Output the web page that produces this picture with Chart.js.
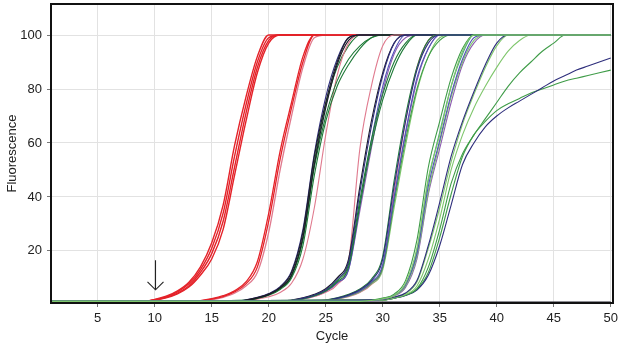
<!DOCTYPE html>
<html>
<head>
<meta charset="utf-8">
<script src="https://cdn.jsdelivr.net/npm/chart.js@4.4.1/dist/chart.umd.min.js"></script>
<style>
  html, body { margin: 0; padding: 0; background: #fff; }
  #wrap { width: 619px; height: 346px; }
</style>
</head>
<body>
<div id="wrap"><canvas id="pcrChart" width="619" height="346"></canvas></div>
<script>
// Amplification curves: [cycle, fluorescence]
const xTicks = [5, 10, 15, 20, 25, 30, 35, 40, 45, 50];
const yTicks = [20, 40, 60, 80, 100];

// earliest red group
const groupA = [
    [[1,1.3],[9,1.3],[10,2],[11,3.2],[12,5.2],[13,8.4],[14,14],[15,23],[16,37],[17,59],[18,77],[19,92],[20,100],[50,100]],
    [[1,1.3],[9,1.3],[10,1.9],[11,3],[12,4.8],[13,7.8],[14,13],[15,21],[16,34],[17,55],[18,74],[19,90],[20,99],[21,100],[50,100]],
    [[1,1.3],[9,1.3],[10,1.8],[11,2.8],[12,4.4],[13,7.1],[14,12],[15,19],[16,31],[17,51],[18,71],[19,88],[20,98],[21,100],[50,100]],
    [[1,1.3],[9,1.3],[10,1.7],[11,2.6],[12,4.1],[13,6.6],[14,11],[15,17],[16,28],[17,48],[18,68],[19,86],[20,97],[21,100],[50,100]]
];
// second red group
const groupB = [
    [[1,1.3],[13,1.3],[14,1.6],[15,2.3],[16,3.4],[17,5.2],[18,8.5],[19,16],[20,34],[21,57],[22,75],[23,92],[24,100],[50,100]],
    [[1,1.3],[13,1.3],[14,1.5],[15,2.1],[16,3.1],[17,4.8],[18,7.8],[19,14],[20,31],[21,54],[22,73],[23,90],[24,100],[50,100]],
    [[1,1.3],[14,1.4],[15,1.9],[16,2.8],[17,4.3],[18,7],[19,12],[20,27],[21,50],[22,70],[23,88],[24,99],[25,100],[50,100]]
];
// black / dark green group around cycle 24
const groupC = [
    [[1,1.3],[17,1.3],[18,1.8],[19,2.7],[20,4],[21,6.5],[22,12],[23,27],[24,55],[25,75],[26,90],[27,99],[28,100],[50,100]],
    [[1,1.3],[17,1.3],[18,1.7],[19,2.5],[20,3.8],[21,6.2],[22,11],[23,25],[24,52],[25,73],[26,89],[27,98],[28,100],[50,100]],
    [[1,1.3],[18,1.7],[19,2.5],[20,3.8],[21,6],[22,10.5],[23,24],[24,51],[25,70],[26,83],[27,91],[28,96],[29,99],[30,100],[50,100]],
    [[1,1.3],[18,1.6],[19,2.4],[20,3.6],[21,5.7],[22,10],[23,22],[24,48],[25,68],[26,81],[27,89],[28,95],[29,99],[30,100],[50,100]],
    [[1,1.3],[17,1.3],[18,1.9],[19,2.8],[20,4.2],[21,6.8],[22,12.5],[23,28],[24,56],[25,77],[26,91],[27,99],[28,100],[50,100]],
    [[1,1.3],[18,1.5],[19,2.1],[20,3],[21,4.6],[22,8],[23,17],[24,36],[25,63],[26,85],[27,97],[28,100],[50,100]],
    [[1,1.3],[18,1.7],[19,2.6],[20,3.9],[21,6.2],[22,11],[23,25],[24,53],[25,74],[26,88],[27,96],[28,100],[50,100]]
];
// group around cycle 28.5
const groupD = [
    [[1,1.3],[21,1.3],[22,1.7],[23,2.5],[24,3.7],[25,5.6],[26,9.5],[27,16],[28,42],[29,66],[30,85],[31,97],[32,100],[50,100]],
    [[1,1.3],[21,1.3],[22,1.8],[23,2.6],[24,3.9],[25,6],[26,10],[27,17],[28,44],[29,68],[30,86],[31,97],[32,100],[50,100]],
    [[1,1.3],[22,1.6],[23,2.4],[24,3.5],[25,5.3],[26,9],[27,15],[28,39],[29,61],[30,78],[31,90],[32,97],[33,100],[50,100]],
    [[1,1.3],[22,1.6],[23,2.3],[24,3.4],[25,5.1],[26,8.5],[27,14],[28,37],[29,59],[30,76],[31,88],[32,96],[33,100],[50,100]],
    [[1,1.3],[22,1.5],[23,2.2],[24,3.3],[25,5],[26,8.2],[27,13],[28,37],[29,61],[30,81],[31,94],[32,100],[50,100]],
    [[1,1.3],[22,1.5],[23,2.1],[24,3.1],[25,4.7],[26,7.5],[27,16],[28,58],[29,81],[30,96],[31,100],[50,100]],
    [[1,1.3],[22,1.5],[23,2.2],[24,3.2],[25,4.9],[26,8],[27,13],[28,35],[29,58],[30,79],[31,93],[32,99],[33,100],[50,100]]
];
// group around cycle 31.5
const groupE = [
    [[1,1.3],[24,1.3],[25,1.7],[26,2.5],[27,3.7],[28,5.6],[29,9],[30,17],[31,44],[32,68],[33,87],[34,97],[35,100],[50,100]],
    [[1,1.3],[24,1.3],[25,1.8],[26,2.6],[27,3.9],[28,5.9],[29,9.5],[30,18],[31,46],[32,70],[33,88],[34,98],[35,100],[50,100]],
    [[1,1.3],[25,1.7],[26,2.4],[27,3.5],[28,5.3],[29,8.5],[30,15],[31,40],[32,64],[33,84],[34,95],[35,100],[50,100]],
    [[1,1.3],[25,1.6],[26,2.3],[27,3.4],[28,5.1],[29,8.2],[30,14],[31,38],[32,61],[33,80],[34,92],[35,98],[36,100],[50,100]],
    [[1,1.3],[25,1.6],[26,2.3],[27,3.3],[28,5],[29,8],[30,14],[31,39],[32,63],[33,83],[34,95],[35,100],[50,100]],
    [[1,1.3],[25,1.6],[26,2.2],[27,3.2],[28,4.8],[29,7.7],[30,13],[31,36],[32,59],[33,79],[34,92],[35,99],[36,100],[50,100]],
    [[1,1.3],[25,1.5],[26,2.1],[27,3],[28,4.6],[29,7.5],[30,14],[31,42],[32,68],[33,88],[34,98],[35,100],[50,100]]
];
// late, spread-out group
const groupF = [
    [[1,1.3],[28,1.3],[29,1.6],[30,2.3],[31,3.5],[32,8],[33,21],[34,47],[35,63],[36,81],[37,94],[38,100],[50,100]],
    [[1,1.3],[28,1.3],[29,1.7],[30,2.5],[31,4],[32,9],[33,24],[34,51],[35,68],[36,84],[37,95],[38,100],[50,100]],
    [[1,1.3],[29,1.6],[30,2.3],[31,3.6],[32,7.5],[33,19],[34,44],[35,61],[36,78],[37,91],[38,99],[39,100],[50,100]],
    [[1,1.3],[29,1.6],[30,2.2],[31,3.4],[32,7],[33,18],[34,42],[35,60],[36,77],[37,90],[38,98],[39,100],[50,100]],
    [[1,1.3],[29,1.5],[30,2.2],[31,3.3],[32,6.5],[33,17],[34,41],[35,58],[36,75],[37,89],[38,97],[39,100],[50,100]],
    [[1,1.3],[29,1.6],[30,2.3],[31,3.5],[32,7.2],[33,20],[34,46],[35,64],[36,81],[37,93],[38,100],[50,100]],
    [[1,1.3],[30,2],[31,2.9],[32,4.4],[33,9],[34,22],[35,38],[36,55],[37,68],[38,79],[39,89],[40,97],[41,100],[50,100]],
    [[1,1.3],[30,2],[31,2.8],[32,4.2],[33,8.5],[34,21],[35,36],[36,53],[37,67],[38,78],[39,88],[40,96],[41,100],[50,100]],
    [[1,1.3],[30,1.8],[31,2.6],[32,3.8],[33,7],[34,17],[35,32],[36,50],[37,63],[38,73],[39,81],[40,88],[41,94],[42,98],[43,100],[50,100]],
    [[1,1.3],[30,1.8],[31,2.5],[32,3.6],[33,6],[34,14],[35,28],[36,45],[37,56],[38,63],[39,69],[40,75],[41,81],[42,86],[43,90],[44,94],[45,97],[46,100],[50,100]],
    [[1,1.3],[30,1.8],[31,2.5],[32,3.5],[33,5.5],[34,11],[35,22],[36,37],[37,52],[38,60],[39,66],[40,70],[41,73],[42,75.5],[43,78],[44,80.5],[45,83],[46,85],[47,87],[48,88.5],[49,90],[50,91.5]],
    [[1,1.3],[30,1.8],[31,2.5],[32,3.6],[33,5.8],[34,12],[35,25],[36,41],[37,55],[38,63],[39,68],[40,72],[41,74.5],[42,76.5],[43,78.5],[44,80],[45,81.5],[46,83],[47,84],[48,85],[49,86],[50,87]]
];
// no-template control
const ntc = [[1,0.9],[50,0.9]];

// arrow marking the cycle where the first curve leaves the baseline
const arrowCycle = 10;
const arrowFrom = 16.5;
const arrowTo = 5.6;

// colours per curve (same order as the groups)
const RED = '#e42229', PINK = '#e07a8e', BLACK = '#1c1c28', NAVY = '#2e2e7c',
      BLUE = '#5252b8', PURPLE = '#8c5cb0', DGREEN = '#1f7a38', GREEN = '#3f9c48',
      LGREEN = '#7fc66c', TEAL = '#49a27a';
const coloursA = [RED, RED, RED, RED];
const coloursB = [RED, RED, PINK];
const coloursC = [BLACK, BLACK, DGREEN, DGREEN, NAVY, PINK, DGREEN];
const coloursD = [NAVY, BLACK, DGREEN, DGREEN, BLUE, PINK, PURPLE];
const coloursE = [NAVY, DGREEN, BLUE, GREEN, PURPLE, LGREEN, PINK];
const coloursF = [LGREEN, GREEN, BLUE, LGREEN, PURPLE, TEAL, NAVY, LGREEN, LGREEN, GREEN, NAVY, GREEN];

const FONT = "'Liberation Sans', Arial, sans-serif";

function toDatasets(curves, colours, width) {
    return curves.map((pts, i) => ({
        data: pts.map(p => ({ x: p[0], y: p[1] })),
        borderColor: colours[i],
        borderWidth: width,
        pointRadius: 0,
        fill: false,
        cubicInterpolationMode: 'monotone'
    }));
}

// first dataset is painted last (on top)
const datasets = [
    ...toDatasets(groupF, coloursF, 1.1),
    ...toDatasets(groupE, coloursE, 1.1),
    ...toDatasets(groupD, coloursD, 1.1),
    ...toDatasets(groupC, coloursC, 1.1),
    ...toDatasets(groupB, coloursB, 1.3),
    ...toDatasets(groupA, coloursA, 1.4),
    ...toDatasets([ntc], [BLACK], 2)
];

// black frame round the plot + the arrow
const framePlugin = {
    id: 'frame',
    afterDatasetsDraw(chart) {
        const { ctx, chartArea: a, scales: { x, y } } = chart;
        ctx.save();
        ctx.strokeStyle = '#111';
        ctx.lineWidth = 2;
        ctx.strokeRect(a.left, a.top, a.right - a.left, a.bottom - a.top);

        const ax = Math.round(x.getPixelForValue(arrowCycle)) + 0.5;
        const y0 = y.getPixelForValue(arrowFrom);
        const y1 = y.getPixelForValue(arrowTo);
        ctx.strokeStyle = '#222';
        ctx.lineWidth = 1.1;
        ctx.beginPath();
        ctx.moveTo(ax, y0);
        ctx.lineTo(ax, y1);
        ctx.moveTo(ax - 8, y1 - 8);
        ctx.lineTo(ax, y1);
        ctx.lineTo(ax + 8, y1 - 8);
        ctx.stroke();
        ctx.restore();
    }
};

new Chart(document.getElementById('pcrChart'), {
    type: 'line',
    data: { datasets },
    plugins: [framePlugin],
    options: {
        responsive: false,
        animation: false,
        events: [],
        layout: { padding: { top: 4, right: 6, left: 0, bottom: 0 } },
        plugins: { legend: { display: false }, tooltip: { enabled: false } },
        scales: {
            x: {
                type: 'linear',
                min: 0.9,
                max: 50.2,
                afterBuildTicks: s => { s.ticks = xTicks.map(v => ({ value: v })); },
                afterFit: s => { s.height = 43; s.paddingLeft = 0; s.paddingRight = 0; },
                border: { display: false },
                grid: { color: '#e2e2e2', tickColor: '#777', tickLength: 4 },
                ticks: { color: '#222', padding: 4, maxRotation: 0, font: { family: FONT, size: 13 } },
                title: { display: true, text: 'Cycle', color: '#222', padding: { top: 0, bottom: 2 }, font: { family: FONT, size: 13 } }
            },
            y: {
                type: 'linear',
                min: 0.7,
                max: 111.5,
                afterBuildTicks: s => { s.ticks = yTicks.map(v => ({ value: v })); },
                afterFit: s => { s.width = 51; s.paddingTop = 0; s.paddingBottom = 0; },
                border: { display: false },
                grid: { color: '#e2e2e2', tickColor: '#777', tickLength: 4 },
                ticks: { color: '#222', padding: 5, font: { family: FONT, size: 13 } },
                title: { display: true, text: 'Fluorescence', color: '#222', padding: { top: 5, bottom: 0 }, font: { family: FONT, size: 13 } }
            }
        }
    }
});
</script>
</body>
</html>
